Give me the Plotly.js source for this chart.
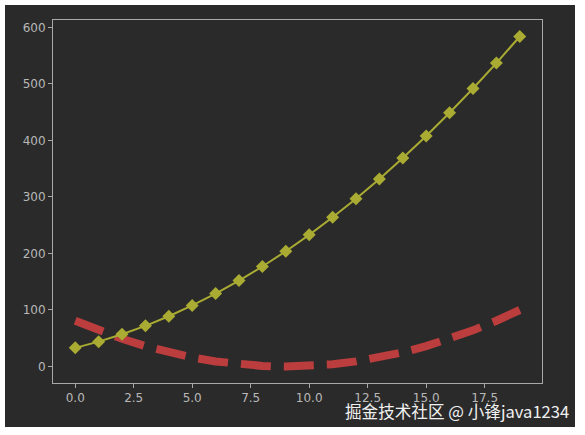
<!DOCTYPE html>
<html>
<head>
<meta charset="utf-8">
<script src="https://cdn.plot.ly/plotly-3.0.1.min.js"></script>
<style>
html,body{margin:0;padding:0;background:#ffffff;width:585px;height:435px;overflow:hidden;}
#chart{position:absolute;left:5px;top:5px;width:570px;height:422px;}
</style>
</head>
<body>
<div id="chart"></div>
<script>
const xValues = [0,1,2,3,4,5,6,7,8,9,10,11,12,13,14,15,16,17,18,19];
const yellowValues = [33,44,57,72,89,108,129,152,177,204,233,264,297,332,369,408,449,492,537,584];
const redValues = [81,64,49,36,25,16,9,4,1,0,1,4,9,16,25,36,49,64,81,100];
const xTicks = [0,2.5,5,7.5,10,12.5,15,17.5];
const yTicks = [0,100,200,300,400,500,600];
const watermark = "掘金技术社区 @ 小锋java1234";

const axisCommon = {
  showgrid:false, zeroline:false,
  showline:true, mirror:true, linecolor:'#a8a8a8', linewidth:1,
  ticks:'outside', ticklen:4, tickwidth:1, tickcolor:'#a8a8a8',
  tickfont:{family:'DejaVu Sans, sans-serif', size:12, color:'#b8b8b8'}
};

const traces = [
  {x:xValues, y:redValues, type:'scatter', mode:'lines',
   line:{color:'#bc3d3d', width:8, dash:'30px,13px'}, hoverinfo:'skip'},
  {x:xValues, y:yellowValues, type:'scatter', mode:'lines+markers',
   line:{color:'#a9ab33', width:2},
   marker:{symbol:'diamond', size:10, color:'#a9ab33'}, hoverinfo:'skip'}
];

const layout = {
  width:570, height:422,
  paper_bgcolor:'#2a2a2a', plot_bgcolor:'#2a2a2a',
  showlegend:false,
  margin:{l:48, r:33, t:15, b:44},
  xaxis:Object.assign({}, axisCommon, {range:[-0.95,19.95], tickvals:xTicks, tickformat:'.1f'}),
  yaxis:Object.assign({}, axisCommon, {range:[-29.2,613.2], tickvals:yTicks}),
  annotations:[{
    text:watermark, xref:'paper', yref:'paper', x:1.06, y:-0.078,
    xanchor:'right', yanchor:'middle', showarrow:false,
    font:{family:'Noto Sans CJK SC, sans-serif', size:16.6, color:'#f0f0f0'}
  }]
};

Plotly.newPlot('chart', traces, layout, {displayModeBar:false, staticPlot:true});
</script>
</body>
</html>
